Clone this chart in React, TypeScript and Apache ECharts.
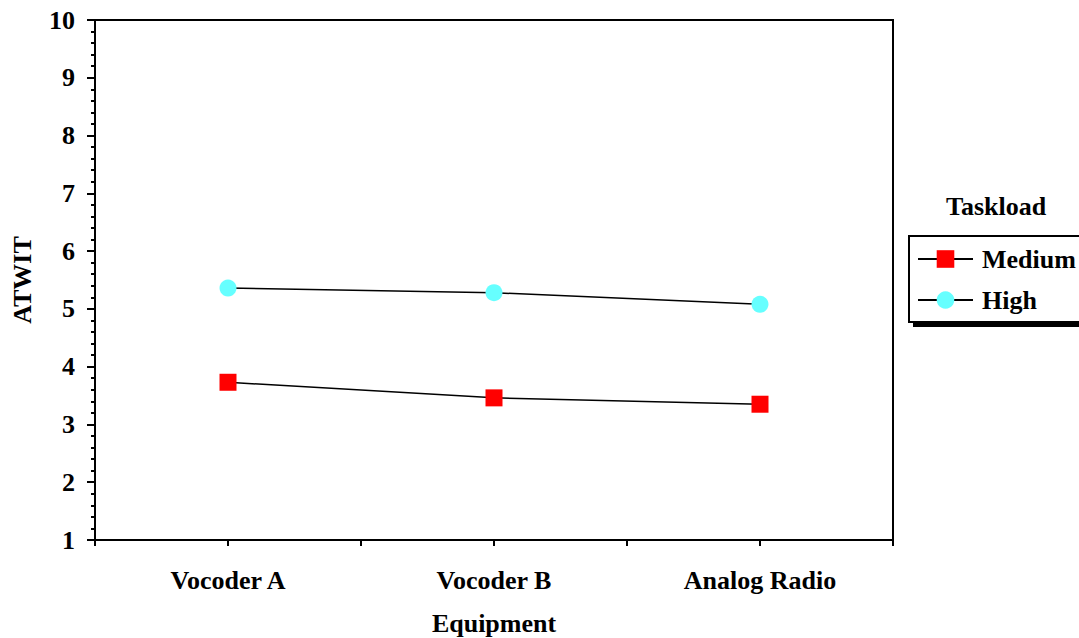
import React, { useEffect, useRef } from "react";
import * as echarts from "echarts";

const categories = ["Vocoder A", "Vocoder B", "Analog Radio"];
const mediumValues = [3.73, 3.46, 3.35];
const highValues = [5.36, 5.28, 5.08];
const yTicks = { min: 1, max: 10, interval: 1 };

export default function App() {
  const ref = useRef<HTMLDivElement>(null);
  useEffect(() => {
    const chart = echarts.init(ref.current!, null, { renderer: "svg" });
    const font = "Liberation Serif";
    const toPts = (vals: number[]) => vals.map((v, i) => [i + 0.5, v]);
    chart.setOption({
      animation: false,
      textStyle: { fontFamily: font },
      grid: {
        left: 95,
        right: 186,
        top: 20,
        bottom: 98,
        show: true,
        borderColor: "#000",
        borderWidth: 2,
        outerBoundsMode: "none",
        containLabel: false,
      },
      xAxis: {
        type: "value",
        min: 0,
        max: 3,
        interval: 0.5,
        name: "Equipment",
        nameLocation: "middle",
        nameGap: 70,
        nameTextStyle: { fontFamily: font, fontWeight: "bold", fontSize: 26, color: "#000" },
        axisLine: { lineStyle: { color: "#000", width: 2 } },
        axisTick: { show: true, length: 6, lineStyle: { color: "#000", width: 2 } },
        axisLabel: {
          margin: 27,
          fontFamily: font,
          fontWeight: "bold",
          fontSize: 26,
          color: "#000",
          formatter: (v: number) => {
            const i = Math.floor(v);
            return Math.abs(v - i - 0.5) < 1e-6 ? categories[i] : "";
          },
        },
        splitLine: { show: false },
      },
      yAxis: {
        type: "value",
        min: yTicks.min,
        max: yTicks.max,
        interval: yTicks.interval,
        name: "ATWIT",
        nameLocation: "middle",
        nameGap: 60,
        nameTextStyle: { fontFamily: font, fontWeight: "bold", fontSize: 26, color: "#000" },
        axisLine: { show: true, lineStyle: { color: "#000", width: 2 } },
        axisTick: { show: true, length: 8, lineStyle: { color: "#000", width: 2 } },
        minorTick: { show: true, splitNumber: 5, length: 4, lineStyle: { color: "#000", width: 2 } },
        axisLabel: { margin: 20, fontFamily: font, fontWeight: "bold", fontSize: 26, color: "#000" },
        splitLine: { show: false },
      },
      legend: {
        orient: "vertical",
        left: 909,
        top: 236,
        width: 200,
        padding: [10, 60, 9, 8],
        itemGap: 15,
        itemWidth: 55,
        itemHeight: 22,
        borderColor: "#000",
        borderWidth: 2,
        backgroundColor: "#fff",
        textStyle: { fontFamily: font, fontWeight: "bold", fontSize: 26, color: "#000", padding: [0, 0, 0, 4] },
        data: ["Medium", "High"],
      },
      graphic: [
        { type: "rect", left: 913, top: 241, shape: { width: 200, height: 86 }, style: { fill: "#000" }, z: -1, silent: true },
        {
          type: "text",
          left: 946,
          top: 193,
          style: { text: "Taskload", fontFamily: font, fontWeight: "bold", fontSize: 26, fill: "#000" },
        },
      ],
      series: [
        {
          name: "Medium",
          type: "line",
          data: toPts(mediumValues),
          symbol: "rect",
          symbolSize: 17,
          itemStyle: { color: "#FF0000" },
          lineStyle: { color: "#000", width: 1.5 },
        },
        {
          name: "High",
          type: "line",
          data: toPts(highValues),
          symbol: "circle",
          symbolSize: 17,
          itemStyle: { color: "#66FFFF" },
          lineStyle: { color: "#000", width: 1.5 },
        },
      ],
    });
    return () => chart.dispose();
  }, []);
  return <div ref={ref} style={{ width: 1079, height: 638, position: "absolute", left: 0, top: 0 }} />;
}
